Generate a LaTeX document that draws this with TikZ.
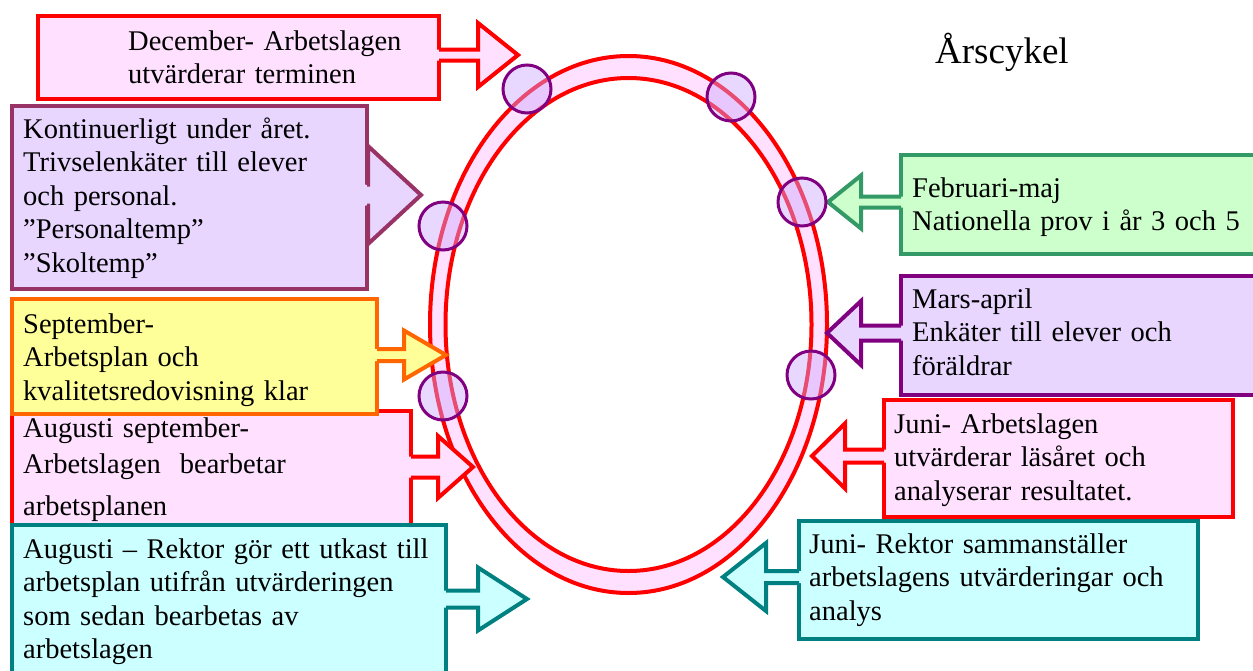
\documentclass[tikz,border=0pt]{standalone}
\usepackage{fontspec}
\setmainfont{Liberation Serif}
\usepackage{tikz}
\usetikzlibrary{calc}

\definecolor{rosafill}{RGB}{255,224,255}
\definecolor{lilafill}{RGB}{232,214,255}
\definecolor{plommon}{RGB}{153,51,102}
\definecolor{violett}{RGB}{128,0,128}
\definecolor{gulfill}{RGB}{255,255,153}
\definecolor{orangekant}{RGB}{255,102,0}
\definecolor{turkosfill}{RGB}{204,255,255}
\definecolor{turkoskant}{RGB}{0,128,128}
\definecolor{gronfill}{RGB}{204,255,204}
\definecolor{gronkant}{RGB}{51,153,102}
\definecolor{punktfill}{RGB}{204,170,255}

\newcommand{\boxfont}{\fontsize{28.5}{33.5}\selectfont}

\tikzstyle{box} = [line width=4pt, inner sep=0pt, anchor=north west, line join=miter]
\tikzstyle{txt} = [anchor=base west, inner sep=0pt, align=left, text width=430pt, font=\boxfont]
\tikzstyle{punkt} = [draw=violett, line width=3pt, fill=punktfill, fill opacity=0.45]

\newcommand{\blockarrow}[8]{
  \fill[#1] ([xshift=#8*6pt,yshift=#7pt]#3) -- ([yshift=#7pt]#4) -- ([yshift=#6pt]#4) -- (#5)
    -- ([yshift=-#6pt]#4) -- ([yshift=-#7pt]#4) -- ([xshift=#8*6pt,yshift=-#7pt]#3) -- cycle;
  \draw[#2, line width=4pt, line join=miter] ([xshift=#8*2pt,yshift=#7pt]#3) -- ([yshift=#7pt]#4)
    -- ([yshift=#6pt]#4) -- (#5) -- ([yshift=-#6pt]#4) -- ([yshift=-#7pt]#4) -- ([xshift=#8*2pt,yshift=-#7pt]#3);
}

\begin{document}
\begin{tikzpicture}[x=1pt,y=-1pt]
\useasboundingbox (0,0) rectangle (1253,670);
\clip (0,0) rectangle (1253,670);
\fill[white] (0,0) rectangle (1253,670);

\filldraw[fill=rosafill, draw=red, line width=4pt, even odd rule]
  (628.5,324.5) ellipse (198.5 and 268.5) (628.5,324.5) ellipse (183 and 246.5);

\node[box, fill=rosafill, draw=red, minimum width=401pt, minimum height=83pt] (dec) at (36,14) {};
\coordinate (dectip) at (518,55);
\coordinate (decS) at (dec.east |- dectip);
\coordinate (decB) at ([xshift=-40pt]dectip);
\blockarrow{rosafill}{red}{decS}{decB}{dectip}{32}{5.5}{-1}
\node[txt] (dect) at (128,50) {December- Arbetslagen\\utvärderar terminen};

\node[box, fill=lilafill, draw=plommon, minimum width=355pt, minimum height=183pt] (kont) at (10,104) {};
\coordinate (konttip) at (421,195);
\coordinate (kontS) at (kont.east |- konttip);
\coordinate (kontB) at ([xshift=-53pt]konttip);
\blockarrow{lilafill}{plommon}{kontS}{kontB}{konttip}{49}{10.5}{-1}
\node[txt] (kontt) at (23,138) {Kontinuerligt under året.\\Trivselenkäter till elever\\och personal.\\”Personaltemp”\\”Skoltemp”};

\node[box, fill=rosafill, draw=red, minimum width=399pt, minimum height=131pt] (augsep) at (10,409) {};
\coordinate (augseptip) at (473,467);
\coordinate (augsepS) at (augsep.east |- augseptip);
\coordinate (augsepB) at ([xshift=-35pt]augseptip);
\blockarrow{rosafill}{red}{augsepS}{augsepB}{augseptip}{31}{10.5}{-1}
\node[txt] (augsept) at (23,437) {Augusti september-\\[2.5pt]Arbetslagen \ bearbetar\\[8.5pt]arbetsplanen};

\node[box, fill=gulfill, draw=orangekant, minimum width=365pt, minimum height=115pt] (sept) at (10,297) {};
\coordinate (septtip) at (446,355);
\coordinate (septS) at (sept.east |- septtip);
\coordinate (septB) at ([xshift=-42pt]septtip);
\blockarrow{gulfill}{orangekant}{septS}{septB}{septtip}{24.5}{6}{-1}
\node[txt] (septt) at (23,333) {September-\\Arbetsplan och\\kvalitetsredovisning klar};

\node[box, fill=turkosfill, draw=turkoskant, minimum width=434pt, minimum height=177pt] (aug) at (10,523) {};
\coordinate (augtip) at (527,599);
\coordinate (augS) at (aug.east |- augtip);
\coordinate (augB) at ([xshift=-49pt]augtip);
\blockarrow{turkosfill}{turkoskant}{augS}{augB}{augtip}{31.5}{8.5}{-1}
\node[txt] (augt) at (23,558) {Augusti – Rektor gör ett utkast till\\arbetsplan utifrån utvärderingen\\som sedan bearbetas av\\arbetslagen};

\node[box, fill=gronfill, draw=gronkant, minimum width=371pt, minimum height=99pt] (feb) at (899,153) {};
\coordinate (febtip) at (828,202);
\coordinate (febS) at (feb.west |- febtip);
\coordinate (febB) at ([xshift=33pt]febtip);
\blockarrow{gronfill}{gronkant}{febS}{febB}{febtip}{26.5}{5.5}{1}
\node[txt] (febt) at (912,197) {Februari-maj\\Nationella prov i år 3 och 5};

\node[box, fill=lilafill, draw=violett, minimum width=371pt, minimum height=119pt] (mars) at (899,274) {};
\coordinate (marstip) at (827,333);
\coordinate (marsS) at (mars.west |- marstip);
\coordinate (marsB) at ([xshift=34pt]marstip);
\blockarrow{lilafill}{violett}{marsS}{marsB}{marstip}{32}{7.5}{1}
\node[txt] (marst) at (912,308) {Mars-april\\Enkäter till elever och\\föräldrar};

\node[box, fill=rosafill, draw=red, minimum width=349pt, minimum height=117pt] (junia) at (882,398) {};
\coordinate (juniatip) at (812,456);
\coordinate (juniaS) at (junia.west |- juniatip);
\coordinate (juniaB) at ([xshift=33pt]juniatip);
\blockarrow{rosafill}{red}{juniaS}{juniaB}{juniatip}{32.5}{6.5}{1}
\node[txt] (juniat) at (894,433) {Juni- Arbetslagen\\utvärderar läsåret och\\analyserar resultatet.};

\node[box, fill=turkosfill, draw=turkoskant, minimum width=399pt, minimum height=118pt] (junir) at (797,519) {};
\coordinate (junirtip) at (723,577);
\coordinate (junirS) at (junir.west |- junirtip);
\coordinate (junirB) at ([xshift=43pt]junirtip);
\blockarrow{turkosfill}{turkoskant}{junirS}{junirB}{junirtip}{34}{6}{1}
\node[txt] (junirt) at (809,553) {Juni- Rektor sammanställer\\arbetslagens utvärderingar och\\analys};

\foreach \x/\y in {527/89, 731/97, 802/202, 443/226, 443/396, 811/375}
{
 \filldraw[punkt] (\x,\y) circle (24pt);
}

\node[anchor=base west, inner sep=0pt, font=\fontsize{37}{40}\selectfont] (titel) at (935,63) {Årscykel};

\end{tikzpicture}
\end{document}
